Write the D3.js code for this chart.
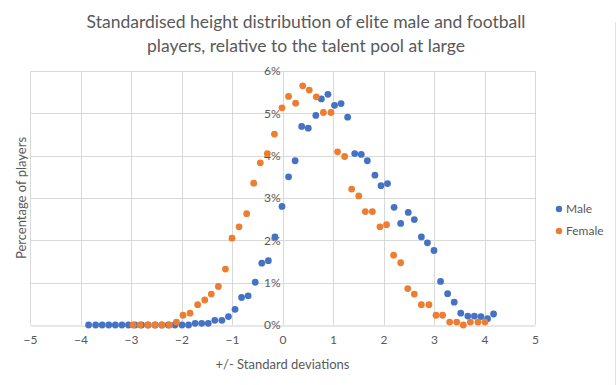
<!DOCTYPE html>
<html>
<head>
<meta charset="utf-8">
<script src="https://cdn.jsdelivr.net/npm/d3@7"></script>
<style>
  html, body { margin: 0; padding: 0; background: #fff; }
  svg { display: block; }
  text { font-family: Lato, "Open Sans", sans-serif; fill: #595959; }
</style>
</head>
<body>
<svg id="chart" width="616" height="385"></svg>
<script>
// ---- data ----
const maleX = [-3.84,-3.70,-3.57,-3.44,-3.31,-3.18,-3.05,-2.92,-2.79,-2.66,-2.52,-2.39,-2.26,-2.13,-1.99,-1.86,-1.73,-1.60,-1.47,-1.34,-1.20,-1.07,-0.94,-0.81,-0.68,-0.54,-0.41,-0.28,-0.15,-0.01,0.12,0.25,0.38,0.51,0.66,0.77,0.90,1.03,1.16,1.29,1.43,1.56,1.68,1.83,1.95,2.08,2.21,2.34,2.49,2.61,2.75,2.87,3.00,3.13,3.27,3.40,3.53,3.67,3.80,3.93,4.06,4.18];
const maleY = [0,0,0,0,0,0,0,0,0,0,0,0,0,0,0,0,0.04,0.04,0.04,0.11,0.11,0.20,0.37,0.65,0.69,1.01,1.46,1.52,2.08,2.80,3.50,3.88,4.69,4.65,4.95,5.34,5.45,5.19,5.23,4.91,4.05,4.03,3.88,3.54,3.29,3.34,2.78,2.40,2.66,2.49,2.08,1.94,1.76,1.03,0.74,0.54,0.28,0.21,0.21,0.20,0.15,0.26];
const femaleX = [-2.96,-2.82,-2.67,-2.53,-2.39,-2.24,-2.10,-1.97,-1.83,-1.68,-1.54,-1.41,-1.27,-1.13,-1.00,-0.86,-0.71,-0.57,-0.44,-0.30,-0.16,-0.01,0.12,0.26,0.40,0.53,0.67,0.81,0.96,1.09,1.23,1.37,1.51,1.64,1.78,1.93,2.06,2.20,2.34,2.48,2.61,2.75,2.90,3.04,3.17,3.31,3.45,3.58,3.72,3.87,4.01];
const femaleY = [0,0,0,0,0,0,0.07,0.23,0.28,0.48,0.59,0.73,0.91,1.32,2.05,2.32,2.63,3.35,3.83,4.05,4.51,5.13,5.40,5.24,5.65,5.55,5.39,5.02,5.02,4.09,3.98,3.21,3.05,2.68,2.68,2.32,2.37,1.65,1.47,0.86,0.73,0.48,0.48,0.23,0.23,0.07,0.07,0,0.07,0.07,0.07];
const xTicks = [-5,-4,-3,-2,-1,0,1,2,3,4,5];
const yTicks = [0,1,2,3,4,5,6];
const seriesNames = ["Male","Female"];
const seriesColors = ["#4472c4","#ed7d31"];
const titleLines = ["Standardised height distribution of elite male and football","players, relative to the talent pool at large"];
const xTitle = "+/- Standard deviations";
const yTitle = "Percentage of players";

// ---- layout ----
const svg = d3.select("#chart");
const plot = {left: 30, right: 535, top: 71, bottom: 325};
const x = d3.scaleLinear().domain([-5,5]).range([plot.left, plot.right]);
const y = d3.scaleLinear().domain([0,6]).range([plot.bottom, plot.top]);

// chart border edge at right
svg.append("line").attr("x1",615.5).attr("x2",615.5).attr("y1",22).attr("y2",385)
  .attr("stroke","#e3e3e3").attr("stroke-width",1);

// gridlines
const grid = svg.append("g");
grid.selectAll("line.h").data(yTicks.filter(d=>d>0)).join("line")
  .attr("x1", plot.left).attr("x2", plot.right)
  .attr("y1", d=>Math.round(y(d))+0.5).attr("y2", d=>Math.round(y(d))+0.5)
  .attr("stroke","#d9d9d9").attr("stroke-width",1);
grid.selectAll("line.v").data(xTicks).join("line")
  .attr("x1", d=>Math.round(x(d))+0.5).attr("x2", d=>Math.round(x(d))+0.5)
  .attr("y1", plot.top).attr("y2", plot.bottom)
  .attr("stroke","#d9d9d9").attr("stroke-width",1);

// x axis (bottom)
const xAxis = d3.axisBottom(x).tickValues(xTicks).tickSize(0).tickPadding(10).tickFormat(d3.format("d"));
const gx = svg.append("g").attr("transform",`translate(0,${Math.round(plot.bottom)+0.5})`).call(xAxis);
gx.select(".domain").attr("stroke","#d0d0d0");
gx.selectAll("text").style("font-size","12px").attr("fill","#666666")
  .style("font-family","Lato, sans-serif");

// y axis at x=0
const yAxis = d3.axisLeft(y).tickValues(yTicks).tickSize(0).tickPadding(3).tickFormat(d=>d+"%");
const gy = svg.append("g").attr("transform",`translate(${Math.round(x(0))+0.5},0)`).call(yAxis);
gy.select(".domain").remove();
gy.selectAll("text").style("font-size","12px").attr("fill","#666666")
  .style("font-family","Lato, sans-serif");

// points
const series = [
  {name: seriesNames[0], xs: maleX, ys: maleY, color: seriesColors[0]},
  {name: seriesNames[1], xs: femaleX, ys: femaleY, color: seriesColors[1]}
];
series.forEach(s => {
  svg.append("g").selectAll("circle").data(s.xs.map((v,i)=>[v, s.ys[i]])).join("circle")
    .attr("cx", d=>x(d[0])).attr("cy", d=>y(d[1])).attr("r", 3.4)
    .attr("fill", s.color);
});

// title
svg.append("text").attr("x",306).attr("y",28).attr("text-anchor","middle")
  .style("font-size","17.5px")
  .selectAll("tspan").data(titleLines).join("tspan")
  .attr("x",306).attr("dy",(d,i)=>i===0?0:24).text(d=>d);

// axis titles
svg.append("text").attr("x",(plot.left+plot.right)/2).attr("y",369).attr("text-anchor","middle")
  .style("font-size","13px").text(xTitle);
svg.append("text").attr("transform","translate(26,198) rotate(-90)").attr("text-anchor","middle")
  .style("font-size","13px").text(yTitle);

// legend
const lg = svg.append("g");
series.forEach((s,i) => {
  const yy = 209 + i*22;
  lg.append("circle").attr("cx",559).attr("cy",yy).attr("r",3.2).attr("fill",s.color);
  lg.append("text").attr("x",566).attr("y",yy).attr("dy","0.35em").style("font-size","12px").text(s.name);
});
</script>
</body>
</html>
